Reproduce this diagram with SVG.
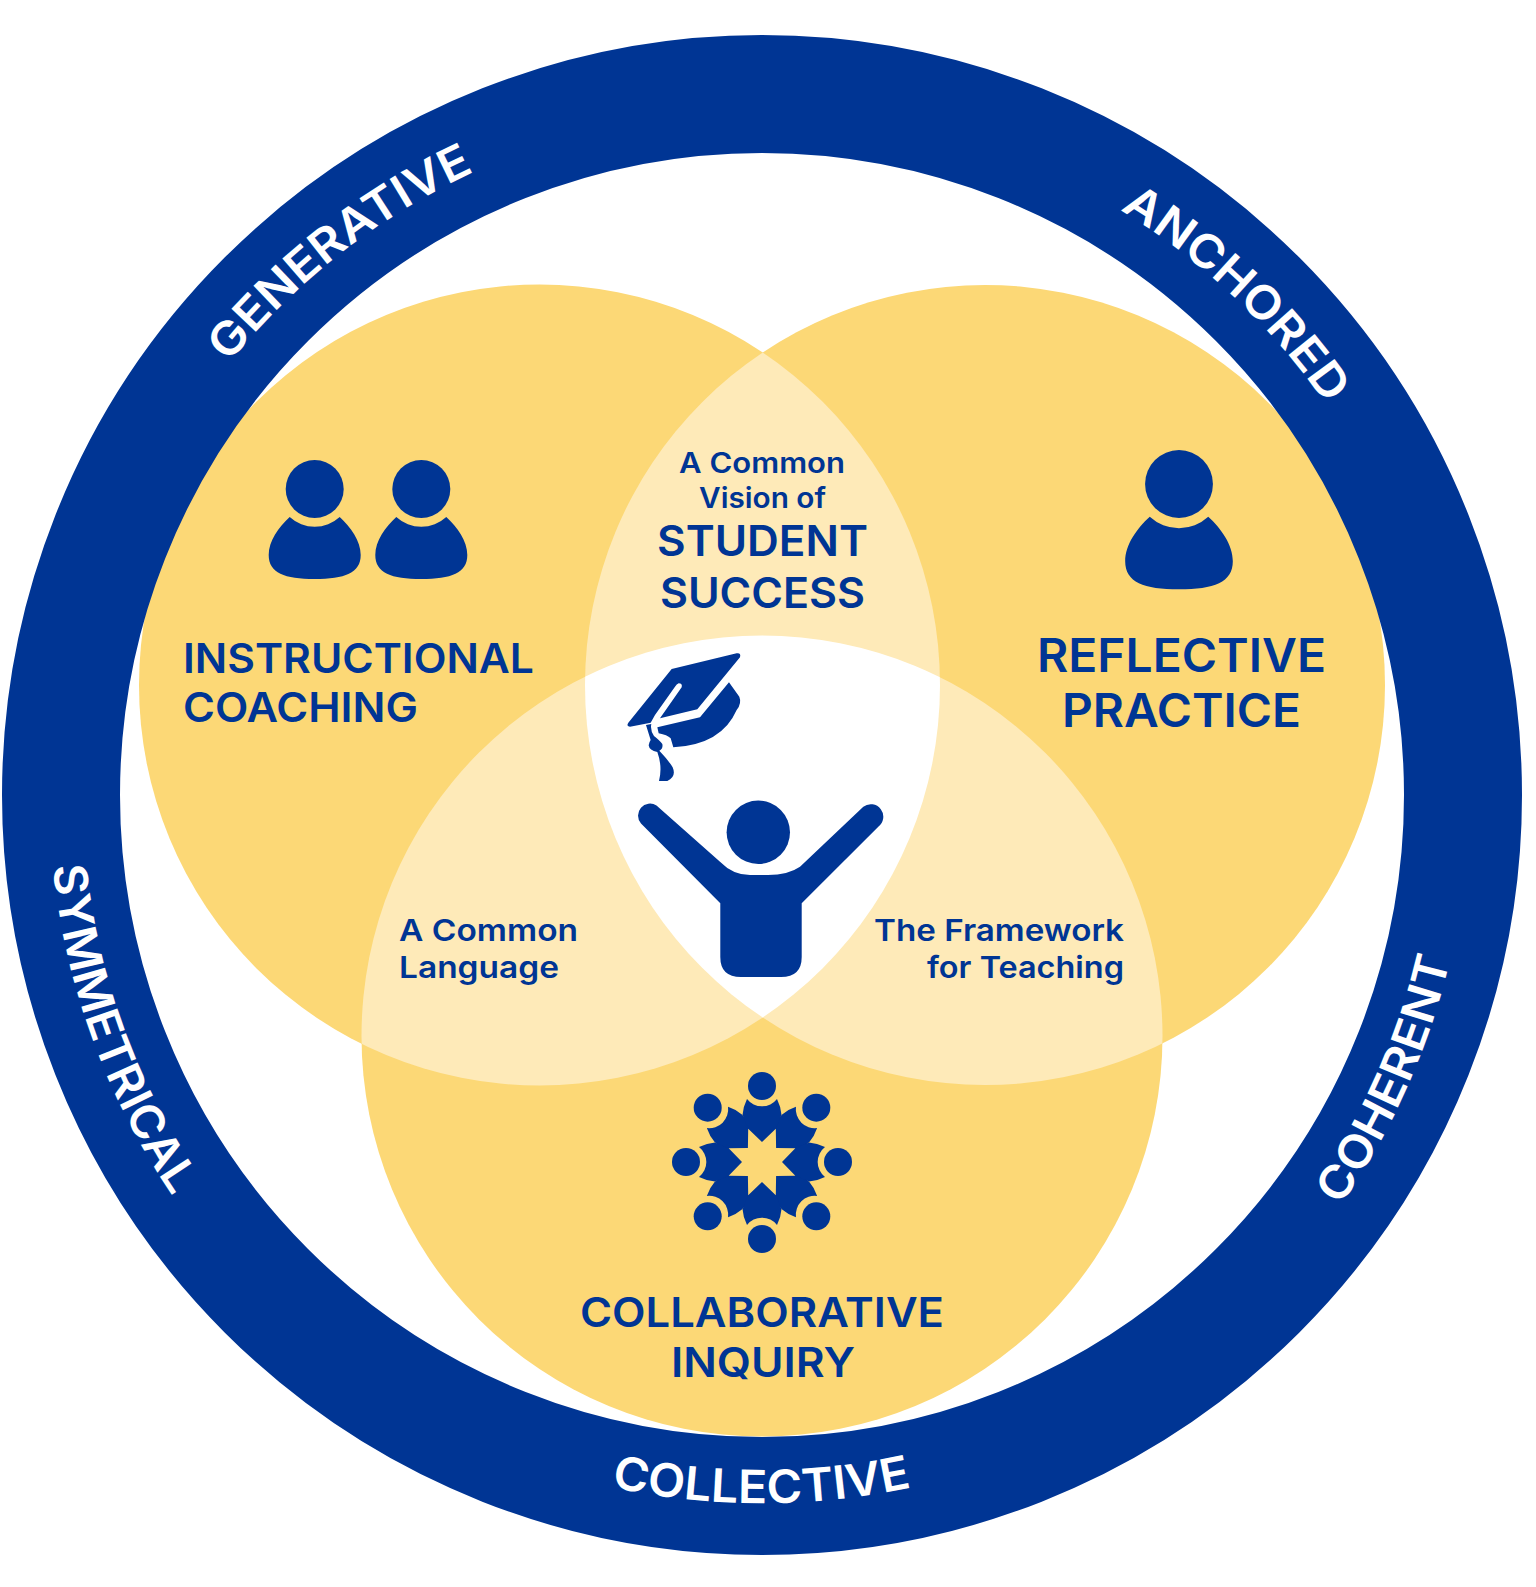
<svg xmlns="http://www.w3.org/2000/svg" xmlns:xlink="http://www.w3.org/1999/xlink" width="1536" height="1587" viewBox="0 0 1536 1587">
<style>
.t{font-family:"Inter","Liberation Sans",sans-serif;font-weight:600;fill:#003594}
.r{font-family:"Inter","Liberation Sans",sans-serif;font-weight:600;font-size:46px;fill:#fff}
.n{fill:#003594}
.y{fill:#FCD876}.l{fill:#FEEAB8}
</style>
<defs>
<clipPath id="cL"><circle cx="539.5" cy="685" r="400.5"/></clipPath>
<clipPath id="cR"><circle cx="985" cy="685" r="400"/></clipPath>
<g id="person"><circle cx="0" cy="0" r="29"/><path d="M-25,28A37,37 0 0 0 25,28C36,38 46,52 46,66C46,84 30,90 0,90C-30,90 -46,84 -46,66C-46,52 -36,38 -25,28Z"/></g>
<path id="petal" d="M0,0L-19.5,-47Q-19,-55 -15,-63A19,19 0 0 0 15,-63Q19,-55 19.5,-47Z"/>
<path id="pG" d="M229,363A686,686 0 0 1 584,132"/>
<path id="pA" d="M1120,210A686,686 0 0 1 1368,473"/>
<path id="pS" d="M53,866A712,712 0 0 0 220,1258"/>
<path id="pC" d="M611,1487A708,708 0 0 0 913,1487"/>
<path id="pH" d="M1340,1206A708,708 0 0 0 1451,955"/>
</defs>
<rect width="1536" height="1587" fill="#fff"/>
<g id="venn">
<circle class="y" cx="539.5" cy="685" r="400.5"/>
<circle class="y" cx="985" cy="685" r="400"/>
<circle class="y" cx="762" cy="1036" r="400.5"/>
<g clip-path="url(#cL)"><circle class="l" cx="985" cy="685" r="400"/><circle class="l" cx="762" cy="1036" r="400.5"/></g>
<g clip-path="url(#cR)"><circle class="l" cx="762" cy="1036" r="400.5"/></g>
<g clip-path="url(#cL)"><g clip-path="url(#cR)"><circle cx="762" cy="1036" r="400.5" fill="#fff"/></g></g>
</g>
<g id="ring">
<circle cx="762" cy="795" r="701" fill="none" stroke="#003594" stroke-width="118"/>
<text class="r"><textPath href="#pG" textLength="314" lengthAdjust="spacingAndGlyphs">GENERATIVE</textPath></text>
<text class="r"><textPath href="#pA" textLength="286" lengthAdjust="spacingAndGlyphs">ANCHORED</textPath></text>
<text class="r"><textPath href="#pS" textLength="355" lengthAdjust="spacingAndGlyphs">SYMMETRICAL</textPath></text>
<text class="r"><textPath href="#pC" textLength="303" lengthAdjust="spacingAndGlyphs">COLLECTIVE</textPath></text>
<text class="r"><textPath href="#pH" textLength="272" lengthAdjust="spacingAndGlyphs">COHERENT</textPath></text>
</g>
<g id="instructional-coaching">
<use href="#person" class="n" x="314.7" y="489"/>
<use href="#person" class="n" x="421.3" y="489"/>
<text class="t" x="183" y="673" font-size="41" textLength="351" lengthAdjust="spacingAndGlyphs">INSTRUCTIONAL</text>
<text class="t" x="183" y="722" font-size="41" textLength="235" lengthAdjust="spacingAndGlyphs">COACHING</text>
</g>
<g id="reflective-practice">
<use href="#person" class="n" transform="translate(1179,484) scale(1.17)"/>
<text class="t" x="1037" y="672" font-size="46" textLength="289" lengthAdjust="spacingAndGlyphs">REFLECTIVE</text>
<text class="t" x="1062" y="727" font-size="46" textLength="239" lengthAdjust="spacingAndGlyphs">PRACTICE</text>
</g>
<g id="collaborative-inquiry">
<g class="n" transform="translate(762,1162)">
<circle cx="0" cy="0" r="49"/>
<use href="#petal"/><use href="#petal" transform="rotate(45)"/><use href="#petal" transform="rotate(90)"/><use href="#petal" transform="rotate(135)"/><use href="#petal" transform="rotate(180)"/><use href="#petal" transform="rotate(225)"/><use href="#petal" transform="rotate(270)"/><use href="#petal" transform="rotate(315)"/>
<polygon class="y" points="0,-20 13.8,-33.3 14.1,-14.1 33.3,-13.8 20,0 33.3,13.8 14.1,14.1 13.8,33.3 0,20 -13.8,33.3 -14.1,14.1 -33.3,13.8 -20,0 -33.3,-13.8 -14.1,-14.1 -13.8,-33.3"/>
<circle cx="0" cy="-76" r="14"/><circle cx="54.3" cy="-54.3" r="14"/><circle cx="76" cy="0" r="14"/><circle cx="54.3" cy="54.3" r="14"/><circle cx="0" cy="77" r="14"/><circle cx="-54.3" cy="54.3" r="14"/><circle cx="-76" cy="0" r="14"/><circle cx="-54.3" cy="-54.3" r="14"/>
</g>
<text class="t" x="580" y="1327" font-size="41" textLength="364" lengthAdjust="spacingAndGlyphs">COLLABORATIVE</text>
<text class="t" x="671" y="1377" font-size="41" textLength="184" lengthAdjust="spacingAndGlyphs">INQUIRY</text>
</g>
<g id="student-success">
<text class="t" x="679" y="473" font-size="28" textLength="166" lengthAdjust="spacingAndGlyphs">A Common</text>
<text class="t" x="699" y="508" font-size="28" textLength="127" lengthAdjust="spacingAndGlyphs">Vision of</text>
<text class="t" x="657" y="556" font-size="42" textLength="211" lengthAdjust="spacingAndGlyphs">STUDENT</text>
<text class="t" x="660" y="608" font-size="42" textLength="205" lengthAdjust="spacingAndGlyphs">SUCCESS</text>
</g>
<g id="common-language">
<text class="t" x="399" y="941" font-size="30" textLength="179" lengthAdjust="spacingAndGlyphs">A Common</text>
<text class="t" x="399" y="978" font-size="30" textLength="160" lengthAdjust="spacingAndGlyphs">Language</text>
</g>
<g id="framework">
<text class="t" x="874" y="941" font-size="30" textLength="250" lengthAdjust="spacingAndGlyphs">The Framework</text>
<text class="t" x="927" y="978" font-size="30" textLength="197" lengthAdjust="spacingAndGlyphs">for Teaching</text>
</g>
<g id="center-figure" class="n">
<circle cx="758.3" cy="832.3" r="31.7"/>
<path d="M656.5,805.5L720,861.7Q733,875 750,875L768,875Q788,875 800,866.7L863.3,806.7A12.5,12.5 0 0 1 878.3,826.7L801.7,903.3L801.7,957Q801.7,977 781,977L741,977Q720.3,977 720.3,957L720.3,903.3L641,823.5A12,12 0 0 1 656.5,805.5Z"/>
<g transform="translate(580,630) scale(.3333)">
<path d="M275,117L470,70Q484,68 480,82L352,238L240,265L305,172Q308,160 296,160Q290,162 285,170L225,255L212,278L150,290Q138,288 145,278Z"/>
<path d="M447,157L478,200Q486,220 470,240Q425,344 280,352L272,325Q262,315 236,310L232,292L360,262Z"/>
<path d="M198,285L214,282Q210,300 222,318Q240,332 247,342Q250,356 238,362Q265,390 278,412Q290,440 262,453L237,453Q248,410 232,366Q208,362 206,346Q208,335 212,330Z"/>
</g>
</g>
</svg>
